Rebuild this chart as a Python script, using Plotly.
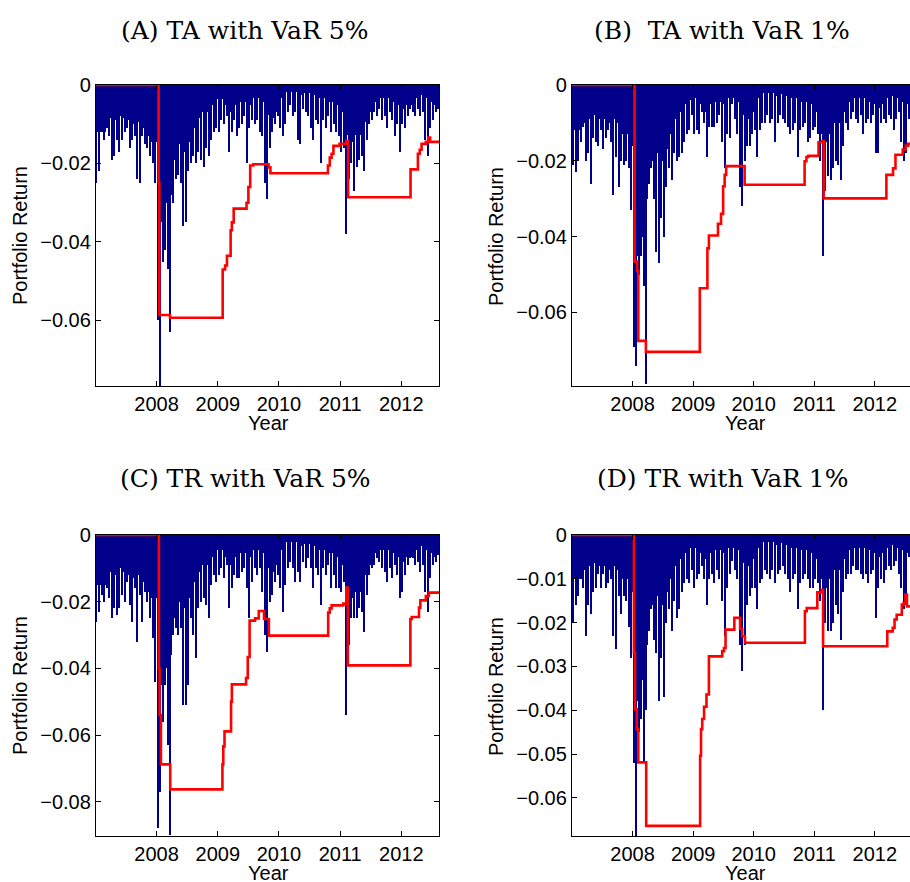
import plotly.graph_objects as go

# ---------------- data ----------------
# half-month periods Jan 2007 - Aug 2012 (136): deepest daily portfolio return in the period (x 0.001)
n_periods = 136
period_x = [2007 + (k + 0.5) / 24 for k in range(n_periods)]
# months Jan 2007 - Aug 2012 (68): depth of the dense band of ordinary daily losses (x 0.001)
n_months = 68
month_x = [2007 + (k + 0.5) / 12 for k in range(n_months)]

ret_A = [-25,-22,-12,-14,-11,-13,-19,-18,-14,-17,-14,-12,-11,-16,-14,-13,-24,-25,-13,-15,-16,-18,-20,-25,
         -60,-77,-45,-42,-47,-63,-30,-24,-23,-25,-36,-35,-22,-20,-18,-20,-17,-19,-21,-16,-18,-14,-12,-11,
         -12,-9,-10,-8,-17,-12,-9,-13,-11,-10,-8,-20,-11,-9,-10,-9,-12,-13,-25,-29,-16,-12,-10,-8,
         -11,-13,-10,-7,-5,-8,-7,-14,-15,-6,-7,-8,-11,-14,-9,-10,-20,-9,-11,-8,-12,-10,-12,-13,
         -17,-16,-38,-24,-20,-27,-21,-19,-18,-22,-14,-10,-9,-7,-8,-6,-9,-8,-11,-7,-9,-13,-10,-17,
         -10,-11,-8,-6,-7,-8,-6,-8,-7,-14,-18,-11,-9,-7,-6,-5]
ret_B = [-21,-23,-20,-15,-11,-20,-18,-26,-14,-15,-16,-12,-17,-14,-12,-15,-29,-19,-27,-20,-21,-20,-22,-33,
         -69,-74,-50,-45,-53,-79,-26,-22,-30,-44,-47,-35,-40,-27,-22,-25,-18,-20,-19,-18,-15,-13,-12,-8,
         -13,-12,-13,-7,-10,-19,-11,-11,-11,-10,-8,-15,-22,-13,-14,-5,-9,-13,-27,-32,-20,-16,-16,-13,
         -12,-19,-12,-10,-10,-8,-10,-9,-15,-10,-8,-9,-10,-11,-13,-12,-10,-19,-12,-11,-10,-15,-14,-12,
         -11,-13,-20,-45,-28,-24,-25,-22,-20,-21,-25,-16,-10,-12,-9,-7,-9,-10,-8,-13,-10,-9,-10,-8,
         -18,-18,-10,-9,-10,-8,-9,-12,-9,-7,-15,-20,-18,-9,-7,-6]
ret_C = [-26,-23,-18,-20,-16,-19,-25,-22,-24,-22,-18,-20,-14,-21,-26,-16,-32,-18,-26,-17,-20,-25,-31,-44,
         -88,-77,-56,-45,-63,-90,-30,-28,-30,-28,-51,-51,-45,-25,-30,-37,-22,-20,-19,-21,-25,-15,-12,-14,
         -12,-10,-13,-9,-22,-16,-12,-13,-13,-11,-10,-16,-25,-14,-10,-12,-10,-17,-30,-35,-20,-18,-14,-12,
         -16,-23,-15,-10,-8,-10,-14,-11,-14,-8,-10,-7,-10,-16,-10,-12,-21,-10,-12,-9,-16,-12,-16,-16,
         -17,-14,-54,-33,-25,-25,-25,-22,-23,-29,-18,-12,-10,-9,-7,-8,-10,-11,-14,-10,-13,-9,-12,-19,
         -17,-12,-9,-7,-7,-9,-8,-11,-9,-17,-23,-13,-9,-8,-6,-5]
ret_D = [-20,-16,-14,-10,-12,-23,-16,-18,-13,-12,-9,-12,-9,-12,-11,-10,-23,-26,-14,-18,-14,-15,-21,-28,
         -52,-69,-45,-42,-52,-40,-22,-17,-24,-27,-38,-28,-37,-20,-17,-22,-15,-19,-17,-13,-11,-10,-11,-8,
         -12,-10,-9,-7,-10,-16,-10,-9,-11,-8,-10,-15,-23,-12,-9,-6,-8,-10,-25,-31,-25,-16,-14,-12,
         -12,-17,-11,-10,-8,-9,-10,-8,-11,-9,-8,-7,-9,-10,-13,-10,-9,-17,-11,-10,-9,-10,-12,-12,
         -10,-11,-15,-40,-20,-22,-22,-20,-16,-18,-24,-13,-10,-9,-9,-7,-8,-8,-9,-10,-9,-11,-9,-8,
         -19,-12,-10,-11,-8,-7,-8,-7,-6,-9,-12,-17,-16,-5,-6,-5]

band_A = [-12,-12,-8.5,-9,-8,-8.5,-9,-10,-9.5,-11,-13,-14.5,
          -35,-30,-28,-19,-15,-17,-14.5,-11,-8.5,-7,-5,-3.5,
          -3.5,-5,-7,-5,-4.3,-4.3,-5,-3.4,-4.3,-7.7,-8.5,-7,
          -3.4,-1.7,-1.7,-1.7,-2.6,-2.1,-2.6,-3.4,-3.4,-4.3,-4.3,-5.1,
          -6.8,-12.8,-14.5,-12.8,-9.4,-6.8,-4.3,-3.4,-3.4,-3.4,-4.3,-5.1,
          -6,-5.1,-3.4,-2.6,-3.4,-4.3,-5.1,-3.4]
band_B = [-12,-12,-10,-9,-8,-9,-9,-10,-9,-10,-13,-16,
          -45,-40,-30,-20,-18,-20,-17,-13,-9,-7,-5,-4,
          -3.5,-5,-7,-5,-4.5,-4.5,-5,-3.5,-4.5,-8,-9,-7,
          -3.5,-2,-2,-2,-3,-2.5,-3,-3.5,-3.5,-4.5,-4.5,-5,
          -7,-13,-15,-13,-10,-7,-4.5,-3.5,-3.5,-3.5,-4.5,-5,
          -6,-5,-3.5,-3,-3.5,-4.5,-5,-3.5]
band_C = [-15,-15,-11,-12,-10,-11,-12,-13,-12,-14,-17,-19,
          -45,-40,-36,-25,-20,-22,-19,-14,-11,-9,-6.5,-4.5,
          -4.5,-6.5,-9,-6.5,-5.5,-5.5,-6.5,-4.5,-5.5,-10,-11,-9,
          -4.5,-2.2,-2.2,-2.2,-3.4,-2.7,-3.4,-4.5,-4.5,-5.5,-5.5,-6.5,
          -9,-17,-19,-17,-12,-9,-5.5,-4.5,-4.5,-4.5,-5.5,-6.5,
          -8,-6.5,-4.5,-3.4,-4.5,-5.5,-6.5,-4.5]
band_D = [-10,-10,-8,-7,-6.5,-7,-7,-8,-7,-8,-10,-13,
          -38,-33,-25,-16,-14,-16,-13,-10,-7,-5.5,-4,-3,
          -3,-4,-5.5,-4,-3.5,-3.5,-4,-3,-3.5,-6.5,-7,-5.5,
          -3,-1.5,-1.5,-1.5,-2.2,-1.8,-2.2,-3,-3,-3.5,-3.5,-4,
          -5.5,-10,-12,-10,-8,-5.5,-3.5,-3,-3,-3,-3.5,-4,
          -5,-4,-3,-2.2,-3,-3.5,-4,-3]

# VaR step lines: (decimal year where the level starts, level)
var_A_x = [2007.0, 2008.033, 2008.045, 2008.22, 2009.08, 2009.12, 2009.15, 2009.21, 2009.23, 2009.26,
           2009.47, 2009.50, 2009.53, 2009.58, 2009.83, 2009.86, 2010.80, 2010.83, 2010.86, 2010.89,
           2010.99, 2011.10, 2011.13, 2012.15, 2012.27, 2012.30, 2012.33, 2012.40, 2012.44, 2012.47, 2012.62]
var_A_y = [0, -0.025, -0.0586, -0.0593, -0.047, -0.046, -0.0435, -0.037, -0.035, -0.0315,
           -0.030, -0.026, -0.0205, -0.0202, -0.021, -0.0225, -0.0205, -0.0185, -0.0175, -0.0155,
           -0.0150, -0.0142, -0.0286, -0.0215, -0.0175, -0.0165, -0.0150, -0.0145, -0.0134, -0.0145, -0.0145]
var_B_x = [2007.0, 2008.033, 2008.075, 2008.095, 2008.22, 2009.11, 2009.235, 2009.26, 2009.41, 2009.46,
           2009.495, 2009.52, 2009.545, 2009.85, 2010.84, 2010.87, 2010.90, 2011.07, 2011.13, 2011.155,
           2012.19, 2012.30, 2012.34, 2012.46, 2012.51, 2012.55, 2012.62]
var_B_y = [0, -0.0466, -0.049, -0.0675, -0.0704, -0.0536, -0.0431, -0.0397, -0.0366, -0.034,
           -0.0267, -0.0237, -0.0214, -0.0263, -0.0201, -0.019, -0.0187, -0.0151, -0.0148, -0.0299,
           -0.0237, -0.022, -0.0184, -0.017, -0.016, -0.0155, -0.0155]
var_C_x = [2007.0, 2008.038, 2008.049, 2008.071, 2008.223, 2009.076, 2009.09, 2009.11, 2009.217, 2009.23,
           2009.462, 2009.49, 2009.52, 2009.609, 2009.67, 2009.755, 2009.835, 2010.804, 2010.83, 2010.86,
           2011.05, 2011.10, 2011.125, 2012.147, 2012.17, 2012.288, 2012.31, 2012.40, 2012.45, 2012.62]
var_C_y = [0, -0.040, -0.054, -0.0688, -0.0763, -0.0688, -0.0634, -0.0589, -0.050, -0.0448,
           -0.0429, -0.0366, -0.0257, -0.025, -0.0228, -0.0252, -0.0302, -0.0233, -0.022, -0.0211,
           -0.0206, -0.0158, -0.0391, -0.0252, -0.0246, -0.0218, -0.0196, -0.0183, -0.0173, -0.0173]
var_D_x = [2007.0, 2008.022, 2008.04, 2008.07, 2008.095, 2008.225, 2009.115, 2009.13, 2009.15, 2009.18,
           2009.22, 2009.26, 2009.48, 2009.51, 2009.535, 2009.68, 2009.775, 2009.81, 2009.855, 2010.845,
           2010.875, 2011.05, 2011.12, 2011.145, 2012.205, 2012.295, 2012.325, 2012.36, 2012.445, 2012.475,
           2012.505, 2012.53, 2012.62]
var_D_y = [0, -0.0269, -0.0398, -0.0443, -0.0519, -0.0664, -0.0504, -0.0443, -0.042, -0.0392,
           -0.0364, -0.0277, -0.0265, -0.0258, -0.0216, -0.0189, -0.0214, -0.0231, -0.0246, -0.0174,
           -0.0167, -0.0131, -0.0125, -0.0254, -0.022, -0.0212, -0.0193, -0.0182, -0.0159, -0.0155,
           -0.0136, -0.0163, -0.0163]

titles = ["(A) TA with VaR 5%", "(B)&nbsp; TA with VaR 1%", "(C) TR with VaR 5%", "(D) TR with VaR 1%"]
year_ticks = [2008, 2009, 2010, 2011, 2012]
y_ticks = [
    [0, -0.02, -0.04, -0.06],
    [0, -0.02, -0.04, -0.06],
    [0, -0.02, -0.04, -0.06, -0.08],
    [0, -0.01, -0.02, -0.03, -0.04, -0.05, -0.06],
]
y_ranges = [[-0.0767, 0], [-0.0794, 0], [-0.0903, 0], [-0.0687, 0]]
x_ranges = [[2007.01, 2012.615], [2007.0, 2012.58], [2007.01, 2012.615], [2007.0, 2012.58]]

# ---------------- layout ----------------
W, H = 910, 882
BLUE = "#00008a"
RED = "#ff0000"
tick_font = dict(family="Liberation Sans, Arial, sans-serif", size=20, color="black")

x_domains = [[96 / W, 439 / W], [572 / W, 1.0], [96 / W, 439 / W], [572 / W, 1.0]]
y_domains = [[1 - 386 / H, 1 - 85 / H], [1 - 386 / H, 1 - 85 / H],
             [1 - 836 / H, 1 - 535 / H], [1 - 836 / H, 1 - 535 / H]]

returns = [ret_A, ret_B, ret_C, ret_D]
bands = [band_A, band_B, band_C, band_D]
vars_x = [var_A_x, var_B_x, var_C_x, var_D_x]
vars_y = [var_A_y, var_B_y, var_C_y, var_D_y]

fig = go.Figure()
layout = dict(width=W, height=H, margin=dict(l=0, r=0, t=0, b=0, autoexpand=False),
              paper_bgcolor="white", plot_bgcolor="white", showlegend=False,
              bargap=0, barmode="overlay")

for p in range(4):
    sfx = "" if p == 0 else str(p + 1)
    xa, ya = "x" + sfx, "y" + sfx
    fig.add_trace(go.Bar(x=month_x, y=[v / 1000 for v in bands[p]], xaxis=xa, yaxis=ya,
                         width=1 / 12, marker=dict(color=BLUE, line=dict(width=0)),
                         hoverinfo="skip"))
    fig.add_trace(go.Bar(x=period_x, y=[v / 1000 for v in returns[p]], xaxis=xa, yaxis=ya,
                         width=0.55 / 24, marker=dict(color=BLUE, line=dict(width=0)),
                         hoverinfo="skip"))
    fig.add_trace(go.Scatter(x=vars_x[p], y=vars_y[p], xaxis=xa, yaxis=ya, mode="lines",
                             line=dict(color=RED, width=2.6, shape="hv"), hoverinfo="skip"))
    right = p in (1, 3)
    layout["xaxis" + sfx] = dict(domain=x_domains[p], anchor=ya, range=x_ranges[p],
                                 tickvals=year_ticks, ticktext=[str(t) for t in year_ticks],
                                 ticks="inside", ticklen=5, tickcolor="black",
                                 showline=True, linecolor="black", linewidth=1.3,
                                 mirror="ticks", showgrid=False, zeroline=False,
                                 tickfont=tick_font, fixedrange=True)
    layout["yaxis" + sfx] = dict(domain=y_domains[p], anchor=xa, range=y_ranges[p],
                                 tickvals=y_ticks[p],
                                 ticktext=["0" if t == 0 else "\u2212%g" % abs(t) for t in y_ticks[p]],
                                 ticks="inside", ticklen=5, tickcolor="black",
                                 showline=True, linecolor="black", linewidth=1.3,
                                 mirror=False if right else "ticks",
                                 showgrid=False, zeroline=False,
                                 tickfont=tick_font, fixedrange=True)

annotations = []
title_pos = [(244, 30), (722, 30), (245, 478), (723, 478)]
for p in range(4):
    tx, ty = title_pos[p]
    annotations.append(dict(text=titles[p], x=tx / W, y=1 - ty / H, xref="paper", yref="paper",
                            xanchor="center", yanchor="middle", showarrow=False,
                            font=dict(family="DejaVu Serif, serif", size=25, color="black")))
year_pos = [(268, 423), (745, 423), (268, 873), (745, 873)]
for (yx, yy) in year_pos:
    annotations.append(dict(text="Year", x=yx / W, y=1 - yy / H, xref="paper", yref="paper",
                            xanchor="center", yanchor="middle", showarrow=False, font=tick_font))
ylab_pos = [(20, 236), (496, 236), (20, 686), (496, 686)]
for (lx, ly) in ylab_pos:
    annotations.append(dict(text="Portfolio Return", x=lx / W, y=1 - ly / H, xref="paper",
                            yref="paper", xanchor="center", yanchor="middle", textangle=-90,
                            showarrow=False, font=tick_font))
layout["annotations"] = annotations
fig.update_layout(**layout)
fig.write_html("out.html")
